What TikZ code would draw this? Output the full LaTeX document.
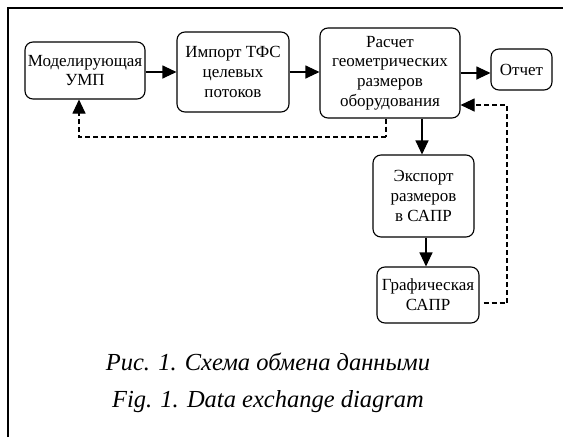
\documentclass[tikz,border=0pt]{standalone}
\usepackage{fontspec}
\setmainfont{Liberation Serif}
\usetikzlibrary{arrows.meta,calc}
\begin{document}
\begin{tikzpicture}[x=1pt,y=-1pt,
  box/.style={draw,line width=1.1pt,rounded corners=8pt,align=center,inner sep=0pt,
    font=\fontsize{17}{19.8}\selectfont},
  arr/.style={line width=1.1pt,-{Triangle[length=14pt,width=13pt]}},
  dsh/.style={line width=1.1pt,dash pattern=on 5pt off 3pt}]
\useasboundingbox (0,0) rectangle (563,437);
\draw[line width=2.4pt] (8,437) -- (8,8) -- (563,8);
\node[box,minimum width=120pt,minimum height=57pt] (b1) at (85,70.5) {Моделирующая\\УМП};
\node[box,minimum width=112pt,minimum height=80pt] (b2) at (233,72) {Импорт ТФС\\целевых\\потоков};
\node[box,minimum width=140pt,minimum height=90pt] (b3) at (390,73) {Расчет\\геометрических\\размеров\\оборудования};
\node[box,minimum width=61pt,minimum height=41pt] (b4) at (521.5,69.5) {Отчет};
\node[box,minimum width=101pt,minimum height=82pt] (b5) at (423.5,196) {Экспорт\\размеров\\в САПР};
\node[box,minimum width=102pt,minimum height=56pt] (b6) at (428,295) {Графическая\\САПР};
\draw[arr] ([yshift=-1.5pt]b1.east) -- ([yshift=-1.5pt]b1.east -| b2.west);
\draw[arr] (b2.east) -- (b2.east -| b3.west);
\draw[arr] (b3.east) -- (b3.east -| b4.west);
\draw[arr] ([xshift=-1.5pt]b5.north |- b3.south) -- ([xshift=-1.5pt]b5.north);
\draw[arr] ([xshift=2.5pt]b5.south) -- ([xshift=2.5pt]b5.south |- b6.north);
\coordinate (c1) at (386,137);
\draw[dsh] ([xshift=-4pt]b3.south) -- (c1);
\draw[dsh,arr] (c1) -| ([xshift=-6pt]b1.south);
\coordinate (c2) at (507,303);
\draw[dsh] ([shift={(4pt,-8pt)}]b6.east) -- (c2);
\draw[dsh,arr] (c2) |- ([yshift=-32pt]b3.east);
\node[font=\fontsize{24.5}{28}\selectfont\itshape] (cap1) at (268,362) {Рис. 1. Схема обмена данными};
\node[font=\fontsize{24.5}{28}\selectfont\itshape] (cap2) at (268,402) {Fig. 1. Data exchange diagram};
\end{tikzpicture}
\end{document}
